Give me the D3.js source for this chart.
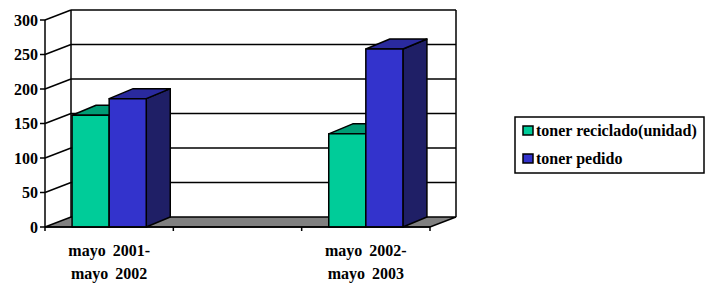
<!DOCTYPE html>
<html>
<head>
<meta charset="utf-8">
<script src="https://cdn.jsdelivr.net/npm/d3@7"></script>
<style>
  body { margin: 0; background: #fff; }
</style>
</head>
<body>
<svg id="chart" width="706" height="286"></svg>
<script>
// chart values
var categories = [["mayo 2001-", "mayo 2002"], [], ["mayo 2002-", "mayo 2003"]];
var seriesNames = ["toner reciclado(unidad)", "toner pedido"];
var reciclado = [162, null, 135];
var pedido = [186, null, 258];
var yTicks = [0, 50, 100, 150, 200, 250, 300];

var colors = [
    { front: "#00CC99", top: "#009C75", side: "#006B50" },
    { front: "#3333CC", top: "#2A2A9E", side: "#1F1F66" }
];

var svg = d3.select("#chart");
var depthX = 26, depthY = -10;   // wall depth
var barDX = 24, barDY = -10;     // bar depth
var sw = 1.5;

function label(sel) {
    return sel.attr("font-family", "Liberation Serif").attr("font-weight", "bold").attr("font-size", 16);
}

var y = d3.scaleLinear().domain([0, 300]).range([227, 20]);
var x = d3.scaleBand().domain(d3.range(categories.length)).range([45, 430]);
var inner = d3.scaleBand().domain(d3.range(seriesNames.length))
    .range([0, x.bandwidth()]).paddingOuter(0.73);

var x0 = 45, x1 = 430, y0 = y(0), yTop = y(300);

// floor
svg.append("polygon")
    .attr("points", [[x0, y0], [x1, y0], [x1 + depthX, y0 + depthY], [x0 + depthX, y0 + depthY]].join(" "))
    .attr("fill", "#808080").attr("stroke", "#000").attr("stroke-width", sw);

// back wall gridlines and side wall
yTicks.forEach(function(t) {
    if (t === 0) return;
    svg.append("line")
        .attr("x1", x0 + depthX).attr("x2", x1 + depthX)
        .attr("y1", y(t) + depthY).attr("y2", y(t) + depthY)
        .attr("stroke", "#000").attr("stroke-width", sw);
    svg.append("line")
        .attr("x1", x0).attr("y1", y(t))
        .attr("x2", x0 + depthX).attr("y2", y(t) + depthY)
        .attr("stroke", "#000").attr("stroke-width", sw);
});
svg.append("line").attr("x1", x0 + depthX).attr("x2", x0 + depthX)
    .attr("y1", yTop + depthY).attr("y2", y0 + depthY).attr("stroke", "#000").attr("stroke-width", sw);
svg.append("line").attr("x1", x1 + depthX).attr("x2", x1 + depthX)
    .attr("y1", yTop + depthY).attr("y2", y0 + depthY).attr("stroke", "#000").attr("stroke-width", sw);

// bars
var values = [reciclado, pedido];
categories.forEach(function(c, i) {
    values.forEach(function(vals, s) {
        var v = vals[i];
        if (v == null) return;
        var bx = x(i) + inner(s), bw = inner.bandwidth(), by = y(v);
        var g = svg.append("g").attr("stroke", "#000").attr("stroke-width", sw).attr("stroke-linejoin", "round");
        g.append("polygon")
            .attr("points", [[bx + bw, by], [bx + bw + barDX, by + barDY], [bx + bw + barDX, y0 + barDY], [bx + bw, y0]].join(" "))
            .attr("fill", colors[s].side);
        g.append("polygon")
            .attr("points", [[bx, by], [bx + barDX, by + barDY], [bx + bw + barDX, by + barDY], [bx + bw, by]].join(" "))
            .attr("fill", colors[s].top);
        g.append("rect").attr("x", bx).attr("y", by).attr("width", bw).attr("height", y0 - by)
            .attr("fill", colors[s].front);
    });
});

// front axes
svg.append("line").attr("x1", x0).attr("x2", x0).attr("y1", yTop).attr("y2", y0)
    .attr("stroke", "#000").attr("stroke-width", sw);
svg.append("line").attr("x1", x0).attr("x2", x1).attr("y1", y0).attr("y2", y0)
    .attr("stroke", "#000").attr("stroke-width", sw);

yTicks.forEach(function(t) {
    svg.append("line").attr("x1", x0 - 5).attr("x2", x0).attr("y1", y(t)).attr("y2", y(t))
        .attr("stroke", "#000").attr("stroke-width", sw);
    svg.append("text").call(label).attr("x", 38).attr("y", y(t)).attr("dy", "0.35em")
        .attr("text-anchor", "end").text(t);
});

d3.range(categories.length + 1).forEach(function(i) {
    var tx = i < categories.length ? x(i) : x1;
    svg.append("line").attr("x1", tx).attr("x2", tx).attr("y1", y0).attr("y2", y0 + 4)
        .attr("stroke", "#000").attr("stroke-width", sw);
});

categories.forEach(function(c, i) {
    c.forEach(function(line, k) {
        svg.append("text").call(label).attr("x", x(i) + x.bandwidth() / 2).attr("y", 256 + k * 23)
            .attr("text-anchor", "middle").attr("word-spacing", 3).text(line);
    });
});

// legend
var lg = svg.append("g");
lg.append("rect").attr("x", 515).attr("y", 117).attr("width", 189).attr("height", 56)
    .attr("fill", "#fff").attr("stroke", "#000").attr("stroke-width", sw);
seriesNames.forEach(function(n, s) {
    var ly = 126 + s * 28;
    lg.append("rect").attr("x", 523).attr("y", ly).attr("width", 10).attr("height", 9)
        .attr("fill", colors[s].front).attr("stroke", "#000").attr("stroke-width", sw);
    lg.append("text").call(label).attr("x", 536).attr("y", ly + 10).text(n);
});
</script>
</body>
</html>
